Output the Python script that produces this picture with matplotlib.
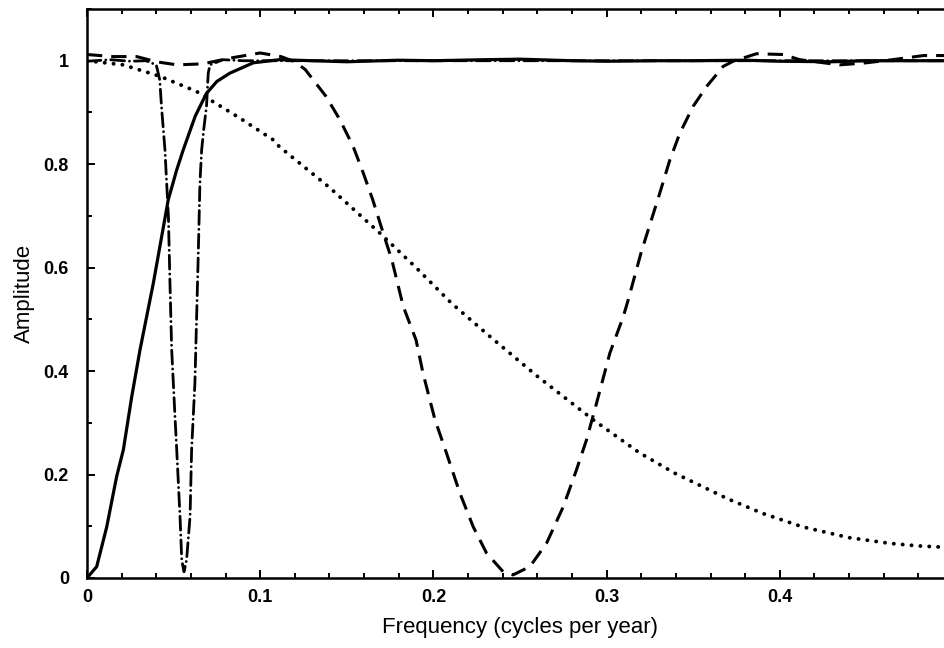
import matplotlib
matplotlib.use("Agg")
import matplotlib.pyplot as plt
from matplotlib.ticker import MultipleLocator

# Values
# Solid: high-pass response
solid_f = [0.0, 0.0056, 0.0114, 0.0171, 0.021, 0.0258, 0.0306, 0.0383, 0.0469,
           0.0518, 0.0556, 0.0625, 0.069, 0.075, 0.0825, 0.096, 0.111, 0.13,
           0.15, 0.18, 0.2, 0.23, 0.25, 0.28, 0.3, 0.33, 0.35, 0.38, 0.4,
           0.43, 0.45, 0.48, 0.5]
solid_a = [0.0, 0.022, 0.099, 0.196, 0.248, 0.35, 0.441, 0.570, 0.731,
           0.789, 0.828, 0.893, 0.937, 0.96, 0.976, 0.996, 1.002, 1.0,
           0.998, 1.001, 1.0, 1.002, 1.003, 1.0, 0.999, 1.0, 1.0, 1.001, 0.999,
           0.998, 1.0, 1.0, 1.0]

# Dotted: low-pass response
dot_f = [0.0, 0.021, 0.042, 0.063, 0.0883, 0.1075, 0.111, 0.14, 0.169, 0.19,
         0.2105, 0.2326, 0.26, 0.2922, 0.319, 0.3394, 0.37, 0.39, 0.413,
         0.44, 0.4635, 0.48, 0.492, 0.5]
dot_a = [1.0, 0.992, 0.970, 0.941, 0.889, 0.847, 0.834, 0.755, 0.667, 0.600,
         0.531, 0.467, 0.39, 0.306, 0.242, 0.2025, 0.153, 0.125, 0.099,
         0.078, 0.067, 0.062, 0.06, 0.058]

# Dashed: band-stop around 0.25
dash_f = [0.0, 0.015, 0.0287, 0.04, 0.052, 0.067, 0.0825, 0.1, 0.112, 0.12,
          0.126, 0.138, 0.146, 0.1537, 0.1595, 0.165, 0.171, 0.176, 0.1826,
          0.19, 0.194, 0.2009, 0.2076, 0.2153, 0.223, 0.2307, 0.2403, 0.246,
          0.2557, 0.2653, 0.275, 0.2826, 0.2884, 0.2942, 0.3019, 0.3096,
          0.3125, 0.32, 0.3307, 0.3365, 0.3423, 0.35, 0.3577, 0.3673, 0.373,
          0.3865, 0.402, 0.4115, 0.4346, 0.45, 0.465, 0.483, 0.5]
dash_a = [1.012, 1.008, 1.008, 0.998, 0.992, 0.994, 1.005, 1.015, 1.008, 0.998,
          0.983, 0.931, 0.886, 0.834, 0.783, 0.731, 0.667, 0.615, 0.525,
          0.46, 0.396, 0.306, 0.241, 0.164, 0.099, 0.048, 0.012, 0.006,
          0.022, 0.067, 0.138, 0.209, 0.267, 0.338, 0.435, 0.505,
          0.538, 0.63, 0.744, 0.808, 0.860, 0.912, 0.950, 0.989, 0.999,
          1.0135, 1.012, 1.002, 0.992, 0.996, 1.002, 1.010, 1.01]

# Dash-dot: narrow notch near 0.057
dd_f = [0.0, 0.013, 0.025, 0.034, 0.04, 0.042, 0.043, 0.045, 0.047, 0.0479,
        0.0489, 0.0508, 0.0518, 0.0537, 0.0547, 0.056, 0.0575, 0.0595, 0.0604,
        0.0623, 0.0633, 0.0643, 0.0652, 0.0662, 0.0675, 0.069, 0.070, 0.071,
        0.0785, 0.09, 0.11, 0.15, 0.2, 0.25, 0.3, 0.35, 0.4, 0.45, 0.5]
dd_a = [0.999, 1.002, 0.999, 1.0, 0.992, 0.963, 0.912, 0.828, 0.699, 0.570,
        0.441, 0.312, 0.248, 0.119, 0.035, 0.012, 0.035, 0.119, 0.248,
        0.377, 0.505, 0.634, 0.763, 0.828, 0.87, 0.912, 0.976, 0.992,
        1.002, 1.0, 1.0, 1.0, 1.0, 1.0, 1.0, 1.0, 1.0, 1.0, 1.0]

x_ticks = [0, 0.1, 0.2, 0.3, 0.4]
x_tick_labels = ["0", "0.1", "0.2", "0.3", "0.4"]
y_ticks = [0, 0.2, 0.4, 0.6, 0.8, 1.0]
y_tick_labels = ["0", "0.2", "0.4", "0.6", "0.8", "1"]

plt.rcParams["font.family"] = ["Liberation Sans", "DejaVu Sans"]
plt.rcParams["lines.scale_dashes"] = False

fig = plt.figure(figsize=(9.45, 6.48), dpi=100)
# right spine sits just past the image edge, like the cropped original
ax = fig.add_axes([87 / 945, 70 / 648, 866 / 945, 569 / 648])

ax.plot(solid_f, solid_a, color="black", lw=2.3, solid_capstyle="round",
        solid_joinstyle="round")
ax.plot(dot_f, dot_a, color="black", lw=2.8, dashes=(0.1, 6.3),
        dash_capstyle="round")
ax.plot(dash_f, dash_a, color="black", lw=2.2, dashes=(11, 6.5),
        dash_joinstyle="round")
ax.plot(dd_f, dd_a, color="black", lw=2.0, dashes=(10, 3.5, 0.1, 3.5),
        dash_capstyle="round")

ax.set_xlim(0, 0.5)
ax.set_ylim(0, 1.1)

ax.set_xticks(x_ticks)
ax.set_xticklabels(x_tick_labels, fontweight="bold", fontsize=13)
ax.set_yticks(y_ticks)
ax.set_yticklabels(y_tick_labels, fontweight="bold", fontsize=13)
ax.xaxis.set_minor_locator(MultipleLocator(0.02))
ax.yaxis.set_minor_locator(MultipleLocator(0.1))

ax.tick_params(which="both", direction="in", top=True, right=True, width=1.4)
ax.tick_params(which="major", length=6)
ax.tick_params(which="minor", length=3.5)
ax.tick_params(axis="x", which="major", pad=8)
ax.tick_params(axis="y", which="major", pad=13)

for spine in ax.spines.values():
    spine.set_linewidth(1.8)

ax.set_xlabel("Frequency (cycles per year)", fontsize=16, labelpad=8)
ax.set_ylabel("Amplitude", fontsize=16, labelpad=6)

fig.savefig("out.png", dpi=100)
